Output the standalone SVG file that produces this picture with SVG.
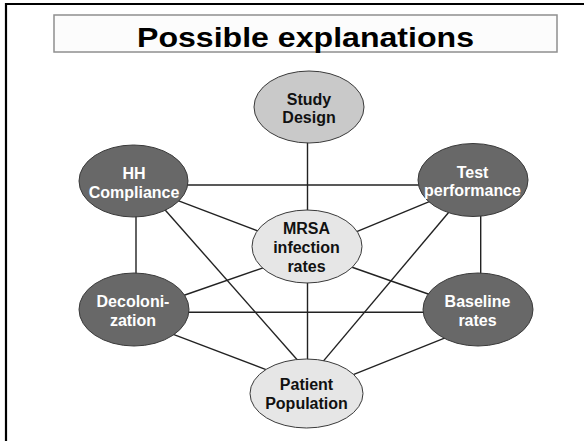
<svg xmlns="http://www.w3.org/2000/svg" width="584" height="441" viewBox="0 0 584 441">
<style>
.bg{fill:#ffffff}
.frame{stroke:#000;stroke-width:2.2;fill:none}
.titlebox{fill:#fcfcfc;stroke:#8f8f8f;stroke-width:1.5}
.title{font-family:"Liberation Sans",Arial,sans-serif;font-weight:bold;font-size:28px;fill:#000;text-anchor:middle}
.edge{stroke:#222;stroke-width:1.4;fill:none}
.dark{fill:#686868;stroke:#3a3a3a;stroke-width:1}
.mid{fill:#c9c9c9;stroke:#3a3a3a;stroke-width:1}
.light{fill:#e6e6e6;stroke:#3a3a3a;stroke-width:1}
.lbl{font-family:"Liberation Sans",Arial,sans-serif;font-weight:bold;font-size:16px;text-anchor:middle}
.wt{fill:#ffffff}
.bk{fill:#111111}
</style>
<rect class="bg" x="0" y="0" width="584" height="441"/>
<path class="frame" d="M6,441 V4 H584"/>
<g id="title">
<rect class="titlebox" x="54" y="15" width="503" height="37"/>
<text class="title" x="305.5" y="47" textLength="337" lengthAdjust="spacingAndGlyphs">Possible explanations</text>
</g>
<g id="connectors">
<line class="edge" x1="307.5" y1="140" x2="307.5" y2="212"/>
<line class="edge" x1="185" y1="185" x2="421" y2="185"/>
<line class="edge" x1="178" y1="200.7" x2="261" y2="232.2"/>
<line class="edge" x1="136" y1="214" x2="136" y2="276"/>
<line class="edge" x1="164.5" y1="209.2" x2="298.5" y2="361.3"/>
<line class="edge" x1="430.5" y1="201.1" x2="355.5" y2="232.2"/>
<line class="edge" x1="480.7" y1="213" x2="480.7" y2="276"/>
<line class="edge" x1="449" y1="212" x2="322.5" y2="362.1"/>
<line class="edge" x1="182" y1="296" x2="264.5" y2="267.3"/>
<line class="edge" x1="186" y1="312.3" x2="426" y2="312.3"/>
<line class="edge" x1="172" y1="333.9" x2="268" y2="370.4"/>
<line class="edge" x1="350" y1="266.5" x2="431" y2="295"/>
<line class="edge" x1="352" y1="375.2" x2="447" y2="337.1"/>
<line class="edge" x1="307.5" y1="281" x2="307.5" y2="361"/>
</g>
<g id="study-design">
<ellipse class="mid" cx="309" cy="107" rx="55" ry="36"/>
<text class="lbl bk" x="309" y="104.5">Study</text>
<text class="lbl bk" x="309" y="123">Design</text>
</g>
<g id="hh-compliance">
<ellipse class="dark" cx="133.5" cy="181" rx="54.5" ry="36"/>
<text class="lbl wt" x="134" y="179">HH</text>
<text class="lbl wt" x="134" y="198">Compliance</text>
</g>
<g id="test-performance">
<ellipse class="dark" cx="473" cy="180" rx="55" ry="36.5"/>
<text class="lbl wt" x="472.5" y="177.5">Test</text>
<text class="lbl wt" x="472.5" y="196">performance</text>
</g>
<g id="mrsa">
<ellipse class="light" cx="307" cy="246.5" rx="55" ry="36.5"/>
<text class="lbl bk" x="306.5" y="234">MRSA</text>
<text class="lbl bk" x="306.5" y="253">infection</text>
<text class="lbl bk" x="306.5" y="272">rates</text>
</g>
<g id="decolonization">
<ellipse class="dark" cx="134" cy="309.5" rx="55" ry="36.5"/>
<text class="lbl wt" x="133" y="307">Decoloni-</text>
<text class="lbl wt" x="133" y="326">zation</text>
</g>
<g id="baseline-rates">
<ellipse class="dark" cx="478" cy="309.5" rx="55" ry="36.5"/>
<text class="lbl wt" x="477.5" y="307">Baseline</text>
<text class="lbl wt" x="477.5" y="325.5">rates</text>
</g>
<g id="patient-population">
<ellipse class="light" cx="306.5" cy="393.5" rx="56.5" ry="34.5"/>
<text class="lbl bk" x="306.5" y="390">Patient</text>
<text class="lbl bk" x="306.5" y="409">Population</text>
</g>
</svg>
